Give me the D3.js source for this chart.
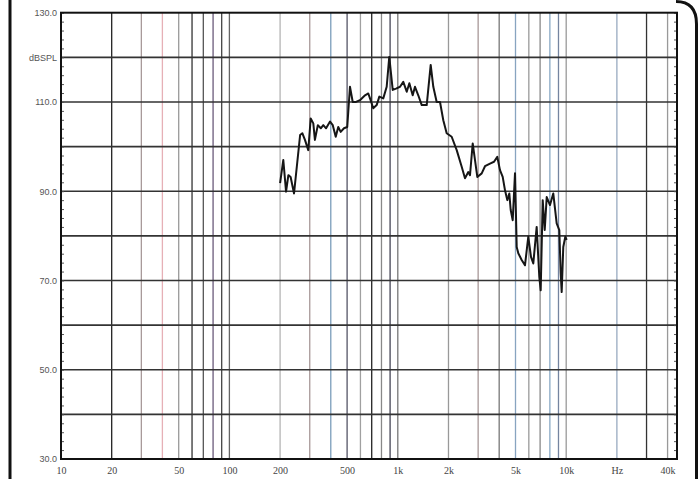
<!DOCTYPE html>
<html><head><meta charset="utf-8">
<script src="https://cdn.jsdelivr.net/npm/d3@7"></script>
<style>html,body{margin:0;padding:0;background:#fff;}svg{display:block;}</style>
</head><body><svg id="c" width="698" height="479"></svg>
<script>
// ---- data ----
const freqs = [200,209,217,224,231,242,263,271,281,294,304,315,322,335,349,361,375,396,411,428,443,458,479,501,520,540,565,596,639,668,684,715,749,777,820,859,890,933,976,1031,1078,1130,1171,1226,1265,1323,1387,1485,1568,1625,1702,1781,1863,1951,2089,2238,2396,2506,2622,2684,2785,2873,2966,3150,3295,3528,3727,3898,4045,4197,4332,4470,4594,4683,4813,4966,5083,5195,5441,5692,5954,6180,6377,6679,6923,7057,7253,7455,7662,8013,8380,8781,9101,9277,9403,9609,9879,10070];
const spl = [91.8,97.0,89.9,93.6,93.2,89.5,102.6,103.0,101.5,99.2,106.3,105.2,101.5,104.8,104.1,104.8,104.1,105.6,104.8,102.2,104.4,103.3,104.1,104.4,113.4,110.0,110.0,110.4,111.5,111.9,110.8,108.6,109.3,111.2,110.8,113.4,120.1,112.7,113.0,113.4,114.5,112.3,114.2,111.5,113.4,111.5,109.3,109.3,118.3,113.4,110.0,110.0,105.9,103.0,102.2,99.2,95.5,92.9,94.3,93.6,100.7,97.0,93.2,94.0,95.6,96.2,96.6,97.7,94.7,93.2,90.2,88.0,89.5,85.8,83.5,94.0,77.5,76.1,74.6,73.4,79.8,75.3,73.8,82.0,70.8,67.8,88.0,81.3,88.7,86.9,89.5,82.8,81.3,71.6,67.4,77.5,79.8,79.1];
const yTickValues = [130,120,110,90,70,50,30];
const yTickLabels = ["130.0","dBSPL","110.0","90.0","70.0","50.0","30.0"];
const yGridValues = [120,110,100,90,80,70,60,50,40];
const xTickValues = [10,20,50,100,200,500,1000,2000,5000,10000,20000,40000];
const xTickLabels = ["10","20","50","100","200","500","1k","2k","5k","10k","Hz","40k"];
const xGridValues = [20,30,40,50,60,70,80,90,100,200,300,400,500,600,700,800,900,1000,2000,3000,4000,5000,6000,7000,8000,9000,10000,20000,30000,40000];

// ---- styles ----
const xGridColors = ["#222","#a89a9a","#e6b0b6","#999","#333","#555","#6a5a7a","#444","#666",
  "#b5b5b5","#a89898","#7a9cba","#556","#a0a0a0","#222","#888","#445","#777",
  "#999","#a89898","#777","#88a4c0","#999","#888","#88a8c4","#7484a0","#999",
  "#98aac0","#333","#999"];

const svg = d3.select("#c");
const L = 61, R = 677, T = 12.7, B = 459;
const x = d3.scaleLog().domain([10, 45500]).range([L, R]);
const y = d3.scaleLinear().domain([30, 130]).range([B, T]);

// outer frame of the scanned page
svg.append("line").attr("x1",10).attr("x2",10).attr("y1",0).attr("y2",479)
  .attr("stroke","#111").attr("stroke-width",3);
svg.append("path").attr("d","M676,1.5 Q696.5,1.5 696.5,24 L696.5,479")
  .attr("fill","none").attr("stroke","#111").attr("stroke-width",3);

const g = svg.append("g");
// vertical grid
g.selectAll("line.vg").data(xGridValues).join("line").attr("class","vg")
  .attr("x1",d=>x(d)).attr("x2",d=>x(d)).attr("y1",T).attr("y2",B)
  .attr("stroke",(d,i)=>xGridColors[i]).attr("stroke-width",1.3);
// horizontal grid
g.selectAll("line.hg").data(yGridValues).join("line").attr("class","hg")
  .attr("x1",L).attr("x2",R).attr("y1",d=>y(d)).attr("y2",d=>y(d))
  .attr("stroke","#333").attr("stroke-width",1.6);

// minor ticks on left and right (every 2 dB)
const minor = d3.range(30,131,2);
g.append("g").attr("transform",`translate(${L},0)`)
  .call(d3.axisRight(y).tickValues(minor).tickSize(3).tickFormat(""))
  .call(s=>{s.select(".domain").remove(); s.selectAll("line").attr("stroke","#555");});
g.append("g").attr("transform",`translate(${R},0)`)
  .call(d3.axisLeft(y).tickValues(minor).tickSize(3).tickFormat(""))
  .call(s=>{s.select(".domain").remove(); s.selectAll("line").attr("stroke","#555");});

// plot frame
g.append("rect").attr("x",L).attr("y",T).attr("width",R-L).attr("height",B-T)
  .attr("fill","none").attr("stroke","#111").attr("stroke-width",2);

// y axis labels
const ya = svg.append("g").attr("transform",`translate(${L},0)`)
  .call(d3.axisLeft(y).tickValues(yTickValues).tickSize(0).tickPadding(4)
    .tickFormat((d,i)=>yTickLabels[i]));
ya.select(".domain").remove();
ya.selectAll("text").attr("font-family","Liberation Sans, Arial, sans-serif")
  .attr("font-size",9).attr("fill","#555");

// x axis labels
const xa = svg.append("g").attr("transform",`translate(0,${B})`)
  .call(d3.axisBottom(x).tickValues(xTickValues).tickSize(0).tickPadding(8)
    .tickFormat((d,i)=>xTickLabels[i]));
xa.select(".domain").remove();
xa.selectAll("text").attr("font-family","Liberation Serif, Times New Roman, serif")
  .attr("font-size",10).attr("fill","#444");

// response curve
const pts = freqs.map((f,i)=>[f,spl[i]]);
svg.append("path").datum(pts)
  .attr("d", d3.line().x(d=>x(d[0])).y(d=>y(d[1])))
  .attr("fill","none").attr("stroke","#161616").attr("stroke-width",2)
  .attr("stroke-linejoin","round");
</script></body></html>
